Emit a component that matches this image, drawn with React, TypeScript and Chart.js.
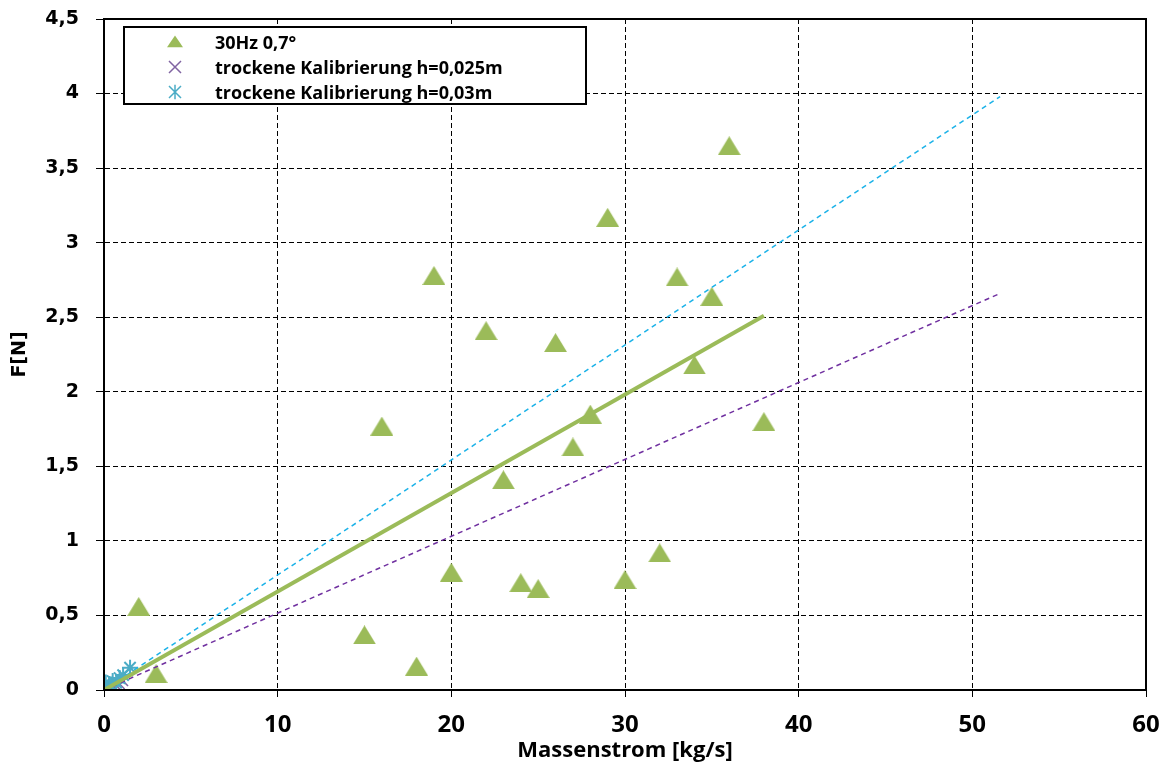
import React, { useEffect, useRef } from "react";
import { Chart, registerables } from "chart.js";
Chart.register(...registerables);

const seriesLabels = ["30Hz 0,7°", "trockene Kalibrierung h=0,025m", "trockene Kalibrierung h=0,03m"];
const xTitle = "Massenstrom [kg/s]";
const yTitle = "F[N]";

const hzX = [2, 3, 15, 16, 18, 19, 20, 22, 23, 24, 25, 26, 27, 28, 29, 30, 32, 33, 34, 35, 36, 38];
const hzY = [0.56, 0.11, 0.37, 1.77, 0.16, 2.78, 0.79, 2.41, 1.41, 0.72, 0.68, 2.33, 1.63, 1.85, 3.17, 0.74, 0.92, 2.77, 2.18, 2.64, 3.65, 1.8];

const cal025X = [0.3, 0.5, 0.7, 0.9, 1.1];
const cal025Y = [0.01, 0.02, 0.03, 0.04, 0.06];
const cal03X = [0.1, 0.3, 0.5, 0.7, 0.9, 1.1, 1.5];
const cal03Y = [0.05, 0.04, 0.06, 0.05, 0.08, 0.1, 0.15];

const trendHzX = [0, 38];
const trendHzY = [0, 2.51];
const trend025X = [0, 51.6];
const trend025Y = [0, 2.66];
const trend03X = [0, 51.6];
const trend03Y = [0, 3.98];

const xTicksMax = 60;
const yTicksMax = 4.5;

const pts = (xs: number[], ys: number[]) => xs.map((x, i) => ({ x, y: ys[i] }));

const GREEN = "#9BBB59";
const PURPLE_M = "#8064A2";
const CYAN_M = "#4BACC6";
const PURPLE_L = "#7030A0";
const CYAN_L = "#1BB2E8";

function makeTriangle(w: number, h: number, color: string) {
  const c = document.createElement("canvas");
  c.width = w;
  c.height = h;
  const g = c.getContext("2d") as CanvasRenderingContext2D;
  g.fillStyle = color;
  g.beginPath();
  g.moveTo(w / 2, 0);
  g.lineTo(w, h);
  g.lineTo(0, h);
  g.closePath();
  g.fill();
  return c;
}

function drawPoint(ctx: any, style: string, r: number, x: number, y: number) {
  ctx.beginPath();
  if (style === "triangle") {
    ctx.moveTo(x, y - r * 0.8);
    ctx.lineTo(x + r, y + r * 0.65);
    ctx.lineTo(x - r, y + r * 0.65);
    ctx.closePath();
    ctx.fill();
  } else if (style === "crossRot") {
    ctx.moveTo(x - r, y - r);
    ctx.lineTo(x + r, y + r);
    ctx.moveTo(x + r, y - r);
    ctx.lineTo(x - r, y + r);
    ctx.stroke();
  } else {
    ctx.moveTo(x - r, y - r);
    ctx.lineTo(x + r, y + r);
    ctx.moveTo(x + r, y - r);
    ctx.lineTo(x - r, y + r);
    ctx.moveTo(x, y - r * 1.2);
    ctx.lineTo(x, y + r * 1.2);
    ctx.stroke();
  }
}

export default function App() {
  const ref = useRef<HTMLCanvasElement | null>(null);
  useEffect(() => {
    document.body.style.margin = "0";
    const tri = makeTriangle(23, 19, GREEN);
    const overlay = {
      id: "overlay",
      afterDraw(chart: any) {
        const { ctx, chartArea } = chart;
        const { left, right, top, bottom } = chartArea;
        ctx.save();
        ctx.strokeStyle = "#000";
        ctx.lineWidth = 2;
        ctx.setLineDash([]);
        ctx.strokeRect(left, top, right - left, bottom - top);
        // legend
        const lx = 124, ly = 27, lw = 462, lh = 77;
        ctx.fillStyle = "#fff";
        ctx.fillRect(lx, ly, lw, lh);
        ctx.lineWidth = 2;
        ctx.strokeStyle = "#000";
        ctx.strokeRect(lx, ly, lw, lh);
        const rows = [42, 67, 92];
        const styles = ["triangle", "crossRot", "star"];
        const colors = [GREEN, PURPLE_M, CYAN_M];
        const radii = [8, 6, 6];
        rows.forEach((cy, i) => {
          ctx.save();
          ctx.fillStyle = colors[i];
          ctx.strokeStyle = colors[i];
          ctx.lineWidth = i === 0 ? 1 : 1.5;
          drawPoint(ctx, styles[i], radii[i], 175, cy);
          ctx.restore();
          ctx.fillStyle = "#000";
          ctx.font = "bold 18px 'Open Sans'";
          ctx.textBaseline = "alphabetic";
          ctx.textAlign = "left";
          ctx.fillText(seriesLabels[i], 215, cy + 7);
        });
        // titles
        ctx.fillStyle = "#000";
        ctx.font = "bold 22px 'Open Sans'";
        ctx.textAlign = "center";
        ctx.textBaseline = "alphabetic";
        ctx.fillText(xTitle, (left + right) / 2, 757);
        ctx.save();
        ctx.translate(20, (top + bottom) / 2);
        ctx.rotate(-Math.PI / 2);
        ctx.textBaseline = "middle";
        ctx.font = "bold 19px 'DejaVu Sans'";
        ctx.fillText(yTitle, 0, 0);
        ctx.restore();
        ctx.restore();
      },
    };

    const chart = new Chart(ref.current as HTMLCanvasElement, {
      type: "scatter",
      data: {
        datasets: [
          {
            label: "trendHz",
            type: "line",
            data: pts(trendHzX, trendHzY),
            borderColor: GREEN,
            borderWidth: 4,
            pointRadius: 0,
            fill: false,
          } as any,
          {
            label: "trend025",
            type: "line",
            data: pts(trend025X, trend025Y),
            borderColor: PURPLE_L,
            borderWidth: 1.5,
            borderDash: [5, 4],
            pointRadius: 0,
            fill: false,
          },
          {
            label: "trend03",
            type: "line",
            data: pts(trend03X, trend03Y),
            borderColor: CYAN_L,
            borderWidth: 1.5,
            borderDash: [5, 4],
            pointRadius: 0,
            fill: false,
          },
          {
            label: seriesLabels[2],
            data: pts(cal03X, cal03Y),
            pointStyle: "star",
            pointRadius: 8,
            borderColor: CYAN_M,
            backgroundColor: CYAN_M,
            pointBorderWidth: 2,
          },
          {
            label: seriesLabels[1],
            data: pts(cal025X, cal025Y),
            pointStyle: "crossRot",
            pointRadius: 7,
            borderColor: PURPLE_M,
            backgroundColor: PURPLE_M,
            pointBorderWidth: 1.5,
          },
          {
            label: seriesLabels[0],
            data: pts(hzX, hzY),
            pointStyle: tri as any,
            pointRadius: 12,
            borderColor: GREEN,
            backgroundColor: GREEN,
            pointBorderWidth: 1,
          },
        ],
      },
      options: {
        animation: false,
        responsive: true,
        maintainAspectRatio: false,
        layout: { padding: { top: 19, right: 18, left: 0, bottom: 0 } },
        plugins: { legend: { display: false }, tooltip: { enabled: false } },
        scales: {
          x: {
            type: "linear",
            min: 0,
            max: xTicksMax,
            ticks: {
              stepSize: 10,
              color: "#000",
              padding: 14,
              maxRotation: 0,
              font: { family: "Open Sans", weight: "bold", size: 24 },
            },
            grid: { color: "#000", lineWidth: 1, tickLength: 7, tickColor: "#000" },
            border: { display: true, color: "#000", width: 2, dash: [5, 3] },
            afterFit: (s: any) => {
              s.height = 74;
              s.paddingLeft = 0;
              s.paddingRight = 0;
            },
          },
          y: {
            type: "linear",
            min: 0,
            max: yTicksMax,
            ticks: {
              stepSize: 0.5,
              color: "#000",
              padding: 17,
              font: { family: "DejaVu Sans", weight: "bold", size: 19 },
              callback: (v: any) => String(Number(v)).replace(".", ","),
            },
            grid: { color: "#000", lineWidth: 1, tickLength: 8, tickColor: "#000" },
            border: { display: true, color: "#000", width: 2, dash: [5, 3] },
            afterFit: (s: any) => {
              s.width = 104;
              s.paddingTop = 0;
              s.paddingBottom = 0;
            },
          },
        },
      },
      plugins: [overlay],
    });
    return () => chart.destroy();
  }, []);
  return (
    <div style={{ width: 1164, height: 764, position: "relative" }}>
      <canvas ref={ref} />
    </div>
  );
}
